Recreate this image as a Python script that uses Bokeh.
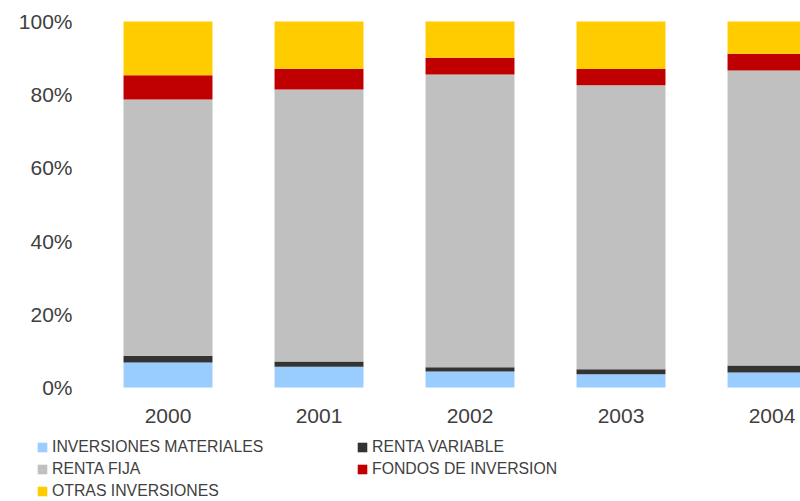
from bokeh.plotting import figure
from bokeh.models import ColumnDataSource, Range1d, FixedTicker, PrintfTickFormatter, Legend, LegendItem
from bokeh.embed import file_html
from bokeh.resources import INLINE

years = ["2000", "2001", "2002", "2003", "2004"]
inversiones_materiales = [6.8, 5.7, 4.4, 3.6, 4.1]
renta_variable = [1.9, 1.4, 1.1, 1.4, 1.9]
renta_fija = [70.0, 74.3, 80.0, 77.6, 80.6]
fondos_inversion = [6.6, 5.7, 4.6, 4.4, 4.6]
otras_inversiones = [14.7, 12.9, 9.9, 13.0, 8.8]

series = ["INVERSIONES MATERIALES", "RENTA VARIABLE", "RENTA FIJA",
          "FONDOS DE INVERSION", "OTRAS INVERSIONES"]
keys = ["im", "rv", "rf", "fi", "oi"]
colors = ["#99CCFF", "#333333", "#C0C0C0", "#C00000", "#FFCC00"]

src = ColumnDataSource(dict(
    x=list(range(len(years))),
    im=inversiones_materiales, rv=renta_variable, rf=renta_fija,
    fi=fondos_inversion, oi=otras_inversiones,
))

FONT = "Liberation Sans"
TXT = "#404040"

p = figure(width=800, height=501, output_backend="svg", toolbar_location=None,
           x_range=Range1d(-1.1093, 4.1887), y_range=Range1d(-31.147, 105.738),
           min_border_left=0, min_border_right=0, min_border_top=0,
           min_border_bottom=0)
p.outline_line_color = None
p.xgrid.visible = False
p.ygrid.visible = False

renderers = p.vbar_stack(keys, x="x", width=0.589, source=src, color=colors, line_color=None)

for ax in (p.xaxis[0], p.yaxis[0]):
    ax.axis_line_color = None
    ax.major_tick_line_color = None
    ax.minor_tick_line_color = None
    ax.major_tick_out = 0
    ax.major_tick_in = 0
    ax.major_label_text_font = FONT
    ax.major_label_text_font_size = "21px"
    ax.major_label_text_color = TXT

p.xaxis.fixed_location = 0
p.xaxis.ticker = FixedTicker(ticks=list(range(len(years))))
p.xaxis.major_label_overrides = {i: y for i, y in enumerate(years)}
p.xaxis.major_label_standoff = 21
p.yaxis.fixed_location = -0.5795
p.yaxis.ticker = FixedTicker(ticks=[0, 20, 40, 60, 80, 100])
p.yaxis.formatter = PrintfTickFormatter(format="%d%%")
p.yaxis.major_label_standoff = 8

def make_legend(idx, loc):
    lg = Legend(items=[LegendItem(label=series[i], renderers=[renderers[i]]) for i in idx],
                location=loc, orientation="vertical",
                border_line_color=None, background_fill_alpha=0,
                padding=0, margin=0, spacing=0,
                glyph_width=12, glyph_height=12, label_height=22, label_standoff=4,
                label_text_font=FONT, label_text_font_size="15.8px", label_text_color=TXT)
    p.add_layout(lg, "center")

make_legend([0, 2, 4], (36, -1))
make_legend([1, 3], (356, 21))

open("out.html", "w").write(file_html(p, INLINE))
